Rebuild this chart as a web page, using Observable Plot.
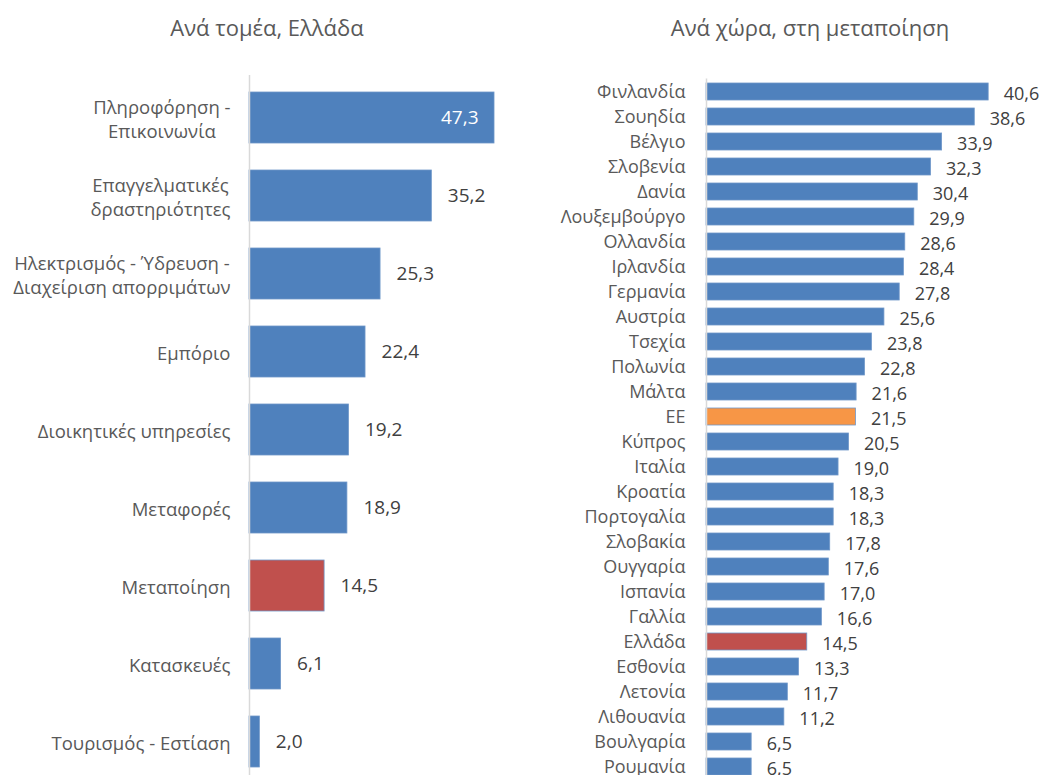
<!DOCTYPE html>
<html><head><meta charset="utf-8">
<script src="https://cdn.jsdelivr.net/npm/d3@7"></script>
<script src="https://cdn.jsdelivr.net/npm/@observablehq/plot@0.6"></script>
<style>
body{margin:0;background:#fff;font-family:'Open Sans',sans-serif;}
#wrap{position:relative;width:1041px;height:775px;overflow:hidden;background:#fff;}
.title{position:absolute;top:12px;font-size:22px;color:#595959;text-align:center;white-space:nowrap;}
.panel{position:absolute;top:0;}
</style></head><body>
<div id="wrap">
<div class="title" style="left:117px;width:300px">Ανά τομέα, Ελλάδα</div>
<div class="title" style="left:635px;width:350px">Ανά χώρα, στη μεταποίηση</div>
<div id="left" class="panel" style="left:0"></div>
<div id="right" class="panel" style="left:540px"></div>
</div>
<script>
const sectors = ["Πληροφόρηση -\nΕπικοινωνία", "Επαγγελματικές\nδραστηριότητες", "Ηλεκτρισμός - Ύδρευση -\nΔιαχείριση απορριμάτων", "Εμπόριο", "Διοικητικές υπηρεσίες", "Μεταφορές", "Μεταποίηση", "Κατασκευές", "Τουρισμός - Εστίαση"];
const sectorValues = [47.3, 35.2, 25.3, 22.4, 19.2, 18.9, 14.5, 6.1, 2.0];
const sectorKinds = ["base", "base", "base", "base", "base", "base", "greece", "base", "base"];

const countries = ["Φινλανδία", "Σουηδία", "Βέλγιο", "Σλοβενία", "Δανία", "Λουξεμβούργο", "Ολλανδία", "Ιρλανδία", "Γερμανία", "Αυστρία", "Τσεχία", "Πολωνία", "Μάλτα", "ΕΕ", "Κύπρος", "Ιταλία", "Κροατία", "Πορτογαλία", "Σλοβακία", "Ουγγαρία", "Ισπανία", "Γαλλία", "Ελλάδα", "Εσθονία", "Λετονία", "Λιθουανία", "Βουλγαρία", "Ρουμανία"];
const countryValues = [40.6, 38.6, 33.9, 32.3, 30.4, 29.9, 28.6, 28.4, 27.8, 25.6, 23.8, 22.8, 21.6, 21.5, 20.5, 19.0, 18.3, 18.3, 17.8, 17.6, 17.0, 16.6, 14.5, 13.3, 11.7, 11.2, 6.5, 6.5];

const kindDomain = ["base", "greece", "eu"];
const kindColors = ["#4f81bd", "#c0504d", "#f79646"];

const fmt = v => d3.format(".1f")(v).replace(".", ",");
const FONT = "'Open Sans', sans-serif";

const left = sectors.map((name, i) => ({name, value: sectorValues[i], kind: sectorKinds[i]}));
const right = countries.map((name, i) => ({name, value: countryValues[i], kind: name === "Ελλάδα" ? "greece" : name === "ΕΕ" ? "eu" : "base"}));

// measure label widths so multi-line labels are centred like the original
const ctx = document.createElement("canvas").getContext("2d");
const LFS = 18.5;
ctx.font = `${LFS}px 'Open Sans'`;
const labelMarks = left.map(d => {
  const w = Math.max(...d.name.split("\n").map(s => ctx.measureText(s).width));
  return Plot.text([d], {x: () => 0, y: "name", text: "name", textAnchor: "middle", dx: -(19 + w / 2), lineHeight: 1.3, fill: "#595959", fontSize: LFS});
});

const leftPlot = Plot.plot({
  width: 540, height: 790,
  marginLeft: 249, marginRight: 32, marginTop: 75, marginBottom: 5,
  style: {fontFamily: FONT, background: "transparent"},
  x: {domain: [0, 50], axis: null},
  y: {type: "band", domain: sectors, paddingInner: 0.34, paddingOuter: 0.17, axis: null},
  color: {domain: kindDomain, range: kindColors},
  marks: [
    Plot.barX(left, {x: "value", y: "name", fill: "kind", stroke: "#6f97c9", strokeWidth: 0.8}),
    Plot.ruleX([0], {stroke: "#d9d9d9", strokeWidth: 1.5}),
    Plot.text(left.filter(d => d.value > 40), {x: "value", y: "name", text: d => fmt(d.value), textAnchor: "end", dx: -16, fill: "white", fontSize: 19}),
    Plot.text(left.filter(d => d.value <= 40), {x: "value", y: "name", text: d => fmt(d.value), textAnchor: "start", dx: 16, fill: "#404040", fontSize: 19}),
    ...labelMarks
  ]
});
document.getElementById("left").append(leftPlot);

const rightPlot = Plot.plot({
  width: 501, height: 790,
  marginLeft: 166, marginRight: 22.25, marginTop: 78.5, marginBottom: 10.4,
  style: {fontFamily: FONT, background: "transparent"},
  x: {domain: [0, 45], axis: null},
  y: {type: "band", domain: countries, paddingInner: 0.33, paddingOuter: 0.165, axis: null},
  color: {domain: kindDomain, range: kindColors},
  marks: [
    Plot.barX(right, {x: "value", y: "name", fill: "kind", stroke: "#6f97c9", strokeWidth: 0.8}),
    Plot.ruleX([0], {stroke: "#d9d9d9", strokeWidth: 1.5}),
    Plot.text(right, {x: "value", y: "name", text: d => fmt(d.value), textAnchor: "start", dx: 15, dy: 2, fill: "#404040", fontSize: 18}),
    Plot.text(right, {x: () => 0, y: "name", text: "name", textAnchor: "end", dx: -21, fill: "#595959", fontSize: 18})
  ]
});
document.getElementById("right").append(rightPlot);
</script>
</body></html>
